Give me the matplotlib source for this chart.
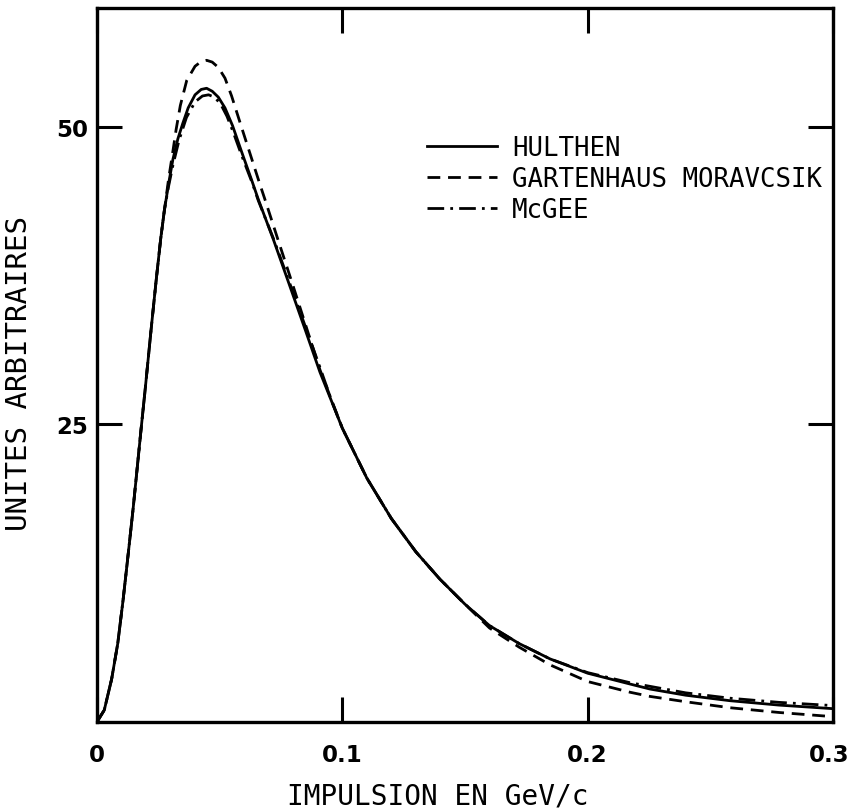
import matplotlib.pyplot as plt
from matplotlib.transforms import ScaledTranslation

# momentum (GeV/c) and distribution values
hulthen_x = [0, 0.003, 0.006, 0.0085, 0.0107, 0.0128, 0.0148, 0.0165, 0.018, 0.0197,
             0.022, 0.0242, 0.026, 0.0275, 0.0292, 0.031, 0.033, 0.035, 0.0372, 0.04,
             0.0425, 0.0447, 0.047, 0.0495, 0.0522, 0.0553, 0.059, 0.0633, 0.0658, 0.072,
             0.078, 0.085, 0.0909, 0.1, 0.11, 0.12, 0.13, 0.1398, 0.15, 0.16,
             0.172, 0.1847, 0.2, 0.2173, 0.2254, 0.24, 0.258, 0.278, 0.3]
hulthen_y = [0, 1.0, 3.6, 6.6, 10.3, 14.2, 18.0, 21.5, 24.6, 28.0,
             32.8, 37.2, 40.6, 43.0, 45.2, 47.3, 49.0, 50.3, 51.6, 52.7,
             53.15, 53.25, 53.0, 52.5, 51.6, 50.1, 47.9, 45.4, 43.9, 40.5,
             37.0, 32.9, 29.4, 24.7, 20.5, 17.1, 14.3, 12.0, 9.9, 8.1,
             6.6, 5.3, 4.1, 3.19, 2.77, 2.25, 1.79, 1.42, 1.12]

gm_x = [0, 0.003, 0.006, 0.0085, 0.0107, 0.0128, 0.0148, 0.0165, 0.018, 0.0197,
        0.022, 0.0242, 0.026, 0.0275, 0.0292, 0.031, 0.0323, 0.034, 0.0366, 0.04,
        0.0425, 0.0447, 0.047, 0.0495, 0.0522, 0.0549, 0.0586, 0.0625, 0.0664, 0.0685,
        0.074, 0.0794, 0.085, 0.0909, 0.1, 0.11, 0.12, 0.13, 0.1398, 0.15,
        0.16, 0.172, 0.1847, 0.2, 0.2173, 0.2254, 0.24, 0.258, 0.278, 0.3]
gm_y = [0, 1.0, 3.6, 6.6, 10.3, 14.2, 18.0, 21.5, 24.6, 28.0,
        32.8, 37.2, 40.6, 43.0, 45.6, 48.0, 49.8, 51.8, 53.9, 55.1,
        55.5, 55.6, 55.45, 55.0, 54.1, 52.6, 50.2, 47.7, 45.2, 43.9,
        40.4, 37.0, 33.4, 29.6, 24.7, 20.5, 17.1, 14.3, 12.0, 9.9,
        7.9, 6.3, 4.8, 3.4, 2.5, 2.15, 1.7, 1.2, 0.8, 0.45]

mcgee_x = [0, 0.003, 0.006, 0.0085, 0.0107, 0.0128, 0.0148, 0.0165, 0.018, 0.0197,
           0.022, 0.0242, 0.026, 0.0275, 0.0292, 0.031, 0.0335, 0.0365, 0.04, 0.043,
           0.0455, 0.048, 0.0505, 0.053, 0.0555, 0.059, 0.0633, 0.0658, 0.072, 0.078,
           0.085, 0.0909, 0.096, 0.1, 0.11, 0.12, 0.13, 0.1398, 0.15, 0.16,
           0.172, 0.1847, 0.2, 0.2173, 0.24, 0.258, 0.278, 0.3]
mcgee_y = [0, 1.0, 3.6, 6.6, 10.3, 14.2, 18.0, 21.5, 24.6, 28.0,
           32.8, 37.2, 40.6, 43.0, 45.0, 46.8, 48.9, 50.8, 52.1, 52.6,
           52.7, 52.5, 51.9, 50.9, 49.6, 47.6, 45.3, 43.8, 40.6, 37.2,
           33.2, 29.8, 26.8, 24.7, 20.5, 17.1, 14.3, 12.0, 9.9, 8.1,
           6.6, 5.3, 4.15, 3.3, 2.45, 2.0, 1.65, 1.38]

labels = ["HULTHEN", "GARTENHAUS MORAVCSIK", "McGEE"]
x_ticks = [0, 0.1, 0.2, 0.3]
x_ticklabels = ["0", "0.1", "0.2", "0.3"]
y_ticks = [25, 50]
y_ticklabels = ["25", "50"]

mono = "DejaVu Sans Mono"

fig = plt.figure(figsize=(8.5, 8.12), dpi=100)
ax = fig.add_axes([0.114, 0.1096, 0.866, 0.8794])

ax.plot(hulthen_x, hulthen_y, color="black", lw=2.0, label=labels[0])
ax.plot(gm_x, gm_y, color="black", lw=2.0, dashes=(4.6, 2.8), label=labels[1])
ax.plot(mcgee_x, mcgee_y, color="black", lw=2.0, dashes=(6.0, 2.2, 1.0, 2.2), label=labels[2])

ax.set_xlim(0, 0.3)
ax.set_ylim(0, 60)
ax.set_xticks(x_ticks)
ax.set_xticklabels(x_ticklabels, fontsize=16.5, fontweight="bold")
ax.set_yticks(y_ticks)
ax.set_yticklabels(y_ticklabels, fontsize=16.5, fontweight="bold")
ax.tick_params(direction="in", length=18, width=2.2, top=True, right=True)
ax.tick_params(axis="x", pad=15)
ax.tick_params(axis="y", pad=6)

# last x label sits at the figure edge in the original: pull it slightly left
last = ax.get_xticklabels()[-1]
last.set_transform(last.get_transform() + ScaledTranslation(-3 / 72, 0, fig.dpi_scale_trans))

for side in ax.spines.values():
    side.set_linewidth(2.4)

ax.set_xlabel("IMPULSION EN GeV/c", fontsize=20, family=mono)
ax.xaxis.set_label_coords(0.463, -0.084)
ax.set_ylabel("UNITES ARBITRAIRES", fontsize=21, family=mono)
ax.yaxis.set_label_coords(-0.087, 0.49)

leg = ax.legend(loc="upper left", bbox_to_anchor=(0.4307, 0.8396), frameon=False,
                prop={"family": mono, "size": 18.5}, handlelength=2.75,
                handletextpad=0.58, labelspacing=0.18, borderpad=0)

fig.savefig("out.png", dpi=100)
